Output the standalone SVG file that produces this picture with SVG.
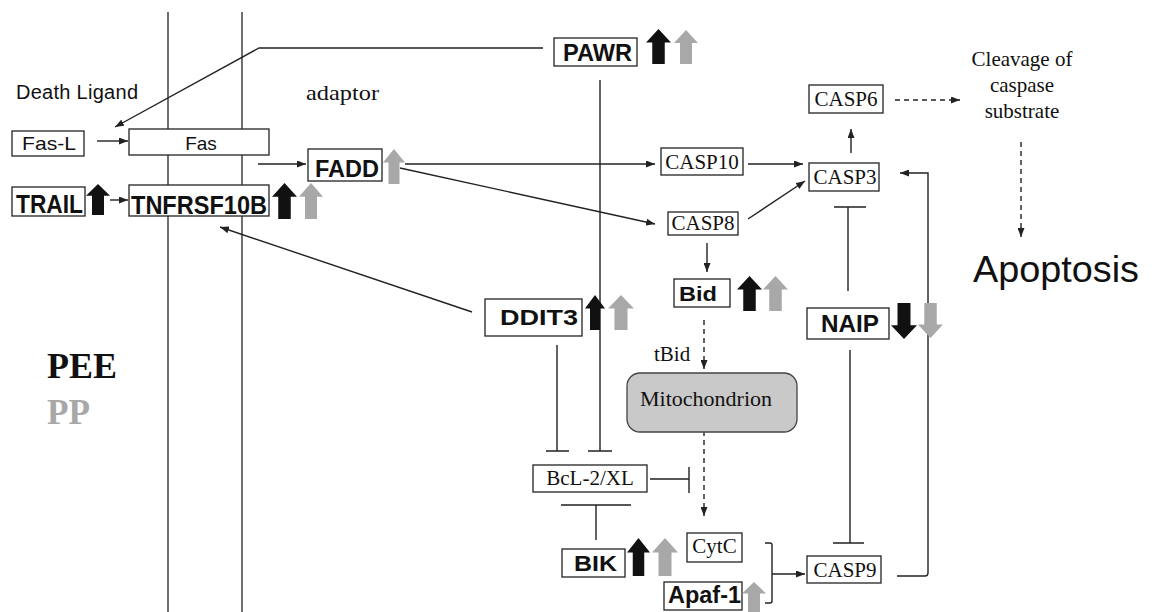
<svg xmlns="http://www.w3.org/2000/svg" xmlns:xlink="http://www.w3.org/1999/xlink" width="1155" height="612" viewBox="0 0 1155 612">
<style>
.bx{fill:#fff;stroke:#222;stroke-width:1.3}
.mito{fill:#c9c9c9;stroke:#444;stroke-width:1.3}
.ln{fill:none;stroke:#222;stroke-width:1.4}
.dash{fill:none;stroke:#222;stroke-width:1.4;stroke-dasharray:5 4}
.mem{fill:none;stroke:#222;stroke-width:1.3}
.b{font-family:"Liberation Sans",Arial,sans-serif;font-weight:bold;fill:#111}
.s{font-family:"Liberation Sans",Arial,sans-serif;fill:#111}
.t{font-family:"Liberation Serif","Times New Roman",serif;fill:#111}
.blk{fill:#111}
.gry{fill:#a8a8a8}
</style>
<defs>
<marker id="ah" markerUnits="userSpaceOnUse" markerWidth="9" markerHeight="7" refX="9" refY="3.5" orient="auto">
<path d="M0,0 L9,3.5 L0,7 z" fill="#222"/>
</marker>
<symbol id="up" viewBox="0 0 24 34" preserveAspectRatio="none"><path d="M12 0 L24 13 L18 13 L18 34 L6 34 L6 13 L0 13 Z"/></symbol>
<symbol id="down" viewBox="0 0 24 34" preserveAspectRatio="none"><path d="M6 0 L18 0 L18 21 L24 21 L12 34 L0 21 L6 21 Z"/></symbol>
</defs>
<rect width="1155" height="612" fill="#fff"/>

<g id="membrane">
<line class="mem" x1="168" y1="12" x2="168" y2="612"/>
<line class="mem" x1="242" y1="12" x2="242" y2="612"/>
</g>

<g id="labels">
<text class="s" x="16" y="99" font-size="20" textLength="122" lengthAdjust="spacing">Death Ligand</text>
<text class="t" x="306" y="100" font-size="22" textLength="73" lengthAdjust="spacingAndGlyphs">adaptor</text>
<text class="t" x="1022" y="66" font-size="21" text-anchor="middle">Cleavage of</text>
<text class="t" x="1022" y="92" font-size="21" text-anchor="middle">caspase</text>
<text class="t" x="1022" y="118" font-size="21" text-anchor="middle">substrate</text>
<text class="s" x="973" y="282" font-size="36" textLength="166" lengthAdjust="spacingAndGlyphs">Apoptosis</text>
<text class="t" x="654" y="361" font-size="21">tBid</text>
<text class="t" x="47" y="378" font-size="36" font-weight="bold" textLength="70" lengthAdjust="spacingAndGlyphs">PEE</text>
<text class="t" x="47" y="424" font-size="36" font-weight="bold" style="fill:#a8a8a8" textLength="43" lengthAdjust="spacingAndGlyphs">PP</text>
</g>

<g id="connectors">
<path class="ln" d="M543,48 H259 L115,127" marker-end="url(#ah)"/>
<path class="ln" d="M97,141 H128" marker-end="url(#ah)"/>
<path class="ln" d="M258,164 H306" marker-end="url(#ah)"/>
<path class="ln" d="M110,200 H128" marker-end="url(#ah)"/>
<path class="ln" d="M405,164 H655" marker-end="url(#ah)"/>
<path class="ln" d="M400,168 L655,224" marker-end="url(#ah)"/>
<path class="ln" d="M748,164 H803" marker-end="url(#ah)"/>
<path class="ln" d="M748,219 L805,181" marker-end="url(#ah)"/>
<path class="ln" d="M851,153 V129" marker-end="url(#ah)"/>
<path class="dash" d="M895,100 H960" marker-end="url(#ah)"/>
<path class="dash" d="M1021,142 V237" marker-end="url(#ah)"/>
<path class="ln" d="M707,243 V272" marker-end="url(#ah)"/>
<path class="dash" d="M704,320 V369" marker-end="url(#ah)"/>
<path class="dash" d="M704,422 V516" marker-end="url(#ah)"/>
<path class="ln" d="M472,312 L220,227" marker-end="url(#ah)"/>
<path class="ln" d="M557,345 V451 M546,451 H569"/>
<path class="ln" d="M600,80 V451 M588,451 H612"/>
<path class="ln" d="M650,479 H689 M689,467 V493"/>
<path class="ln" d="M596,540 V505 M561,505 H631"/>
<path class="ln" d="M848,291 V207 M834,207 H866"/>
<path class="ln" d="M850,350 V543 M833,543 H864"/>
<path class="ln" d="M765,543 H770 Q772,543 772,545 V601 Q772,603 770,603 H765"/>
<path class="ln" d="M772,574 H805" marker-end="url(#ah)"/>
<path class="ln" d="M897,576 H925 Q928,576 928,573 V173 H900" marker-end="url(#ah)"/>
</g>

<g id="PAWR">
<rect class="bx" x="554" y="38" width="83" height="28"/>
<text class="b" x="563" y="61" font-size="23" textLength="69" lengthAdjust="spacingAndGlyphs">PAWR</text>
<use href="#up" class="blk" x="646" y="29" width="25" height="35"/>
<use href="#up" class="gry" x="674" y="30" width="24" height="34"/>
</g>

<g id="FasL">
<rect class="bx" x="12" y="131" width="72" height="25"/>
<text class="s" x="22" y="150" font-size="19" textLength="54" lengthAdjust="spacingAndGlyphs">Fas-L</text>
</g>

<g id="Fas">
<rect class="bx" x="129" y="129" width="140" height="26"/>
<text class="s" x="201" y="150" font-size="19" text-anchor="middle">Fas</text>
</g>

<g id="FADD">
<rect class="bx" x="308" y="149" width="74" height="32"/>
<text class="b" x="315" y="177" font-size="24" textLength="64" lengthAdjust="spacingAndGlyphs">FADD</text>
<use href="#up" class="gry" x="383" y="149" width="22" height="35"/>
</g>

<g id="TRAIL">
<rect class="bx" x="12" y="187" width="73" height="29"/>
<text class="b" x="16" y="213" font-size="25" textLength="67" lengthAdjust="spacingAndGlyphs">TRAIL</text>
<use href="#up" class="blk" x="86" y="184" width="24" height="31"/>
</g>

<g id="TNFRSF10B">
<rect class="bx" x="129" y="185" width="140" height="31"/>
<text class="b" x="131" y="214" font-size="25" textLength="136" lengthAdjust="spacingAndGlyphs">TNFRSF10B</text>
<use href="#up" class="blk" x="272" y="183" width="25" height="36"/>
<use href="#up" class="gry" x="299" y="183" width="24" height="36"/>
</g>

<g id="CASP10">
<rect class="bx" x="661" y="148" width="82" height="27"/>
<text class="t" x="702" y="169" font-size="21" text-anchor="middle">CASP10</text>
</g>

<g id="CASP8">
<rect class="bx" x="668" y="212" width="70" height="23"/>
<text class="t" x="703" y="230" font-size="21" text-anchor="middle">CASP8</text>
</g>

<g id="CASP3">
<rect class="bx" x="809" y="163" width="70" height="28"/>
<text class="t" x="845" y="184" font-size="21" text-anchor="middle">CASP3</text>
</g>

<g id="CASP6">
<rect class="bx" x="809" y="85" width="74" height="28"/>
<text class="t" x="846" y="106" font-size="21" text-anchor="middle">CASP6</text>
</g>

<g id="Bid">
<rect class="bx" x="674" y="279" width="56" height="28"/>
<text class="b" x="679" y="301" font-size="21" textLength="38" lengthAdjust="spacingAndGlyphs">Bid</text>
<use href="#up" class="blk" x="737" y="276" width="25" height="35"/>
<use href="#up" class="gry" x="763" y="276" width="25" height="35"/>
</g>

<g id="DDIT3">
<rect class="bx" x="485" y="299" width="97" height="37"/>
<text class="b" x="500" y="325" font-size="22" textLength="78" lengthAdjust="spacingAndGlyphs">DDIT3</text>
<use href="#up" class="blk" x="585" y="295" width="20" height="35"/>
<use href="#up" class="gry" x="608" y="295" width="26" height="35"/>
</g>

<g id="NAIP">
<rect class="bx" x="807" y="308" width="82" height="31"/>
<text class="b" x="821" y="332" font-size="23" textLength="58" lengthAdjust="spacingAndGlyphs">NAIP</text>
<use href="#down" class="blk" x="891" y="303" width="26" height="36"/>
<use href="#down" class="gry" x="918" y="303" width="25" height="35"/>
</g>

<g id="Mitochondrion">
<rect class="mito" x="627" y="373" width="170" height="59" rx="13" ry="13"/>
<text class="t" x="706" y="406" font-size="22" text-anchor="middle">Mitochondrion</text>
</g>

<g id="BcL2XL">
<rect class="bx" x="533" y="465" width="114" height="27"/>
<text class="t" x="590" y="485" font-size="21" text-anchor="middle">BcL-2/XL</text>
</g>

<g id="BIK">
<rect class="bx" x="562" y="549" width="63" height="28"/>
<text class="b" x="574" y="571" font-size="22" textLength="43" lengthAdjust="spacingAndGlyphs">BIK</text>
<use href="#up" class="blk" x="627" y="538" width="23" height="38"/>
<use href="#up" class="gry" x="652" y="538" width="26" height="38"/>
</g>

<g id="CytC">
<rect class="bx" x="687" y="533" width="55" height="29"/>
<text class="t" x="714.5" y="553" font-size="21" text-anchor="middle">CytC</text>
</g>

<g id="Apaf1">
<rect class="bx" x="664" y="582" width="78" height="28"/>
<text class="b" x="668" y="603" font-size="23" textLength="73" lengthAdjust="spacingAndGlyphs">Apaf-1</text>
<use href="#up" class="gry" x="742" y="582" width="24" height="30"/>
</g>

<g id="CASP9">
<rect class="bx" x="807" y="556" width="74" height="27"/>
<text class="t" x="845" y="577" font-size="21" text-anchor="middle">CASP9</text>
</g>
</svg>
